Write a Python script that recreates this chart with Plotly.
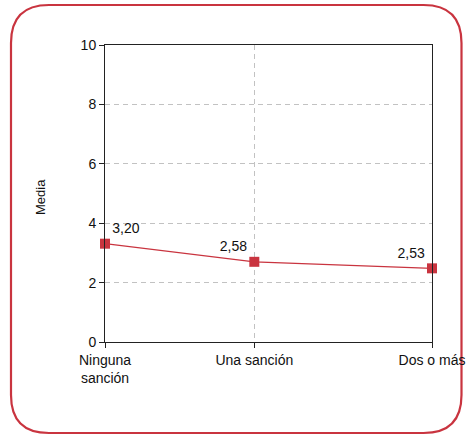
import plotly.graph_objects as go

categories = ["Ninguna<br>sanción", "Una sanción", "Dos o más"]
cat_positions = [0, 1, 2.19]
mean_values = [3.31, 2.70, 2.48]
value_labels = ["3,20", "2,58", "2,53"]
label_positions = ["top right", "top left", "top left"]
y_ticks = [0, 2, 4, 6, 8, 10]

RED = "#c9343f"
W, H = 466, 436
L, R, T, B = 105, 34, 45, 94

fig = go.Figure()
fig.add_trace(go.Scatter(
    x=cat_positions, y=mean_values,
    mode="lines+markers+text",
    line=dict(color=RED, width=1.2),
    marker=dict(symbol="square", size=10, color=RED),
    text=value_labels, textposition=label_positions,
    textfont=dict(size=14, color="#111"),
    cliponaxis=False, showlegend=False, hoverinfo="skip",
))

def px_to_paper(px, py):
    pw = W - L - R
    ph = H - T - B
    return (px - L) / pw, (H - B - py) / ph

def P(px, py):
    a, b = px_to_paper(px, py)
    return f"{a:.5f},{b:.5f}"

# rounded border rectangle in pixel coordinates
x0, y0, x1, y1, r = 11, 5, 461.5, 433, 38
path = (
    f"M {P(x0 + r, y0)} L {P(x1 - r, y0)} Q {P(x1, y0)} {P(x1, y0 + r)} "
    f"L {P(x1, y1 - r)} Q {P(x1, y1)} {P(x1 - r, y1)} "
    f"L {P(x0 + r, y1)} Q {P(x0, y1)} {P(x0, y1 - r)} "
    f"L {P(x0, y0 + r)} Q {P(x0, y0)} {P(x0 + r, y0)} Z"
)
fig.add_shape(type="path", path=path, xref="paper", yref="paper",
              line=dict(color=RED, width=2.2), layer="below")

fig.add_annotation(text="Media", textangle=-90, xref="paper", yref="paper",
                   x=px_to_paper(40, 0)[0], y=px_to_paper(0, 197)[1],
                   showarrow=False, font=dict(size=13, color="#111"),
                   xanchor="center", yanchor="middle")

axis_common = dict(showline=True, linecolor="#222", linewidth=1, mirror=True,
                   ticks="outside", ticklen=5, tickcolor="#222",
                   showgrid=True, gridcolor="#c2c2c2", griddash="5px,4px",
                   gridwidth=1, zeroline=False,
                   tickfont=dict(size=14, color="#111"))

fig.update_layout(
    width=W, height=H,
    margin=dict(l=L, r=R, t=T, b=B, autoexpand=False),
    paper_bgcolor="white", plot_bgcolor="white",
    font=dict(family="Liberation Sans, Arial, sans-serif", size=14, color="#111"),
    xaxis=dict(range=[0, cat_positions[-1]], tickvals=cat_positions,
               ticktext=categories, **axis_common),
    yaxis=dict(range=[0, 10], tickvals=y_ticks, **axis_common),
    hovermode=False,
)

fig.write_html("out.html", config={"displayModeBar": False, "staticPlot": True},
               post_script="document.body.style.margin='0';document.body.style.overflow='hidden';")
